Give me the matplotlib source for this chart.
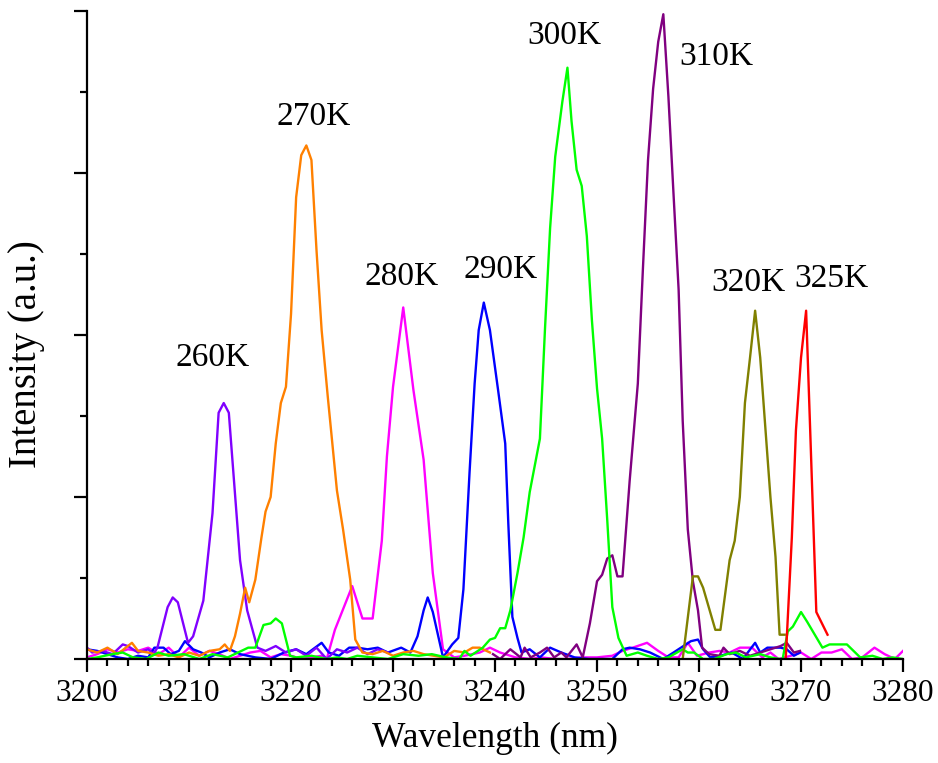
#!/usr/bin/env python3

import numpy as np
import matplotlib.pyplot as plt
from matplotlib.ticker import MultipleLocator, NullFormatter

plt.rcParams['font.family'] = ['Liberation Serif', 'DejaVu Serif']

# Emission spectra at several temperatures (intensity in arbitrary units)
wl_260 = [3200, 3200.5, 3201.5, 3202.5, 3203.5, 3204, 3205, 3206, 3206.5, 3206.9,
          3207.9, 3208.4, 3208.9, 3209.9, 3210.4, 3211.4, 3212.3, 3212.9, 3213.4, 3213.9,
          3215.0, 3215.7, 3216.7, 3217.5, 3218.5, 3219.5, 3220.5, 3221.5, 3222.5, 3223.5,
          3224.5, 3225.5, 3226.5, 3227.5, 3228.5, 3229.5]
int_260 = [0.07, 0.04, 0.05, 0.03, 0.09, 0.08, 0.04, 0.06, 0.03, 0.07,
           0.32, 0.38, 0.35, 0.10, 0.14, 0.36, 0.90, 1.52, 1.58, 1.52,
           0.61, 0.30, 0.07, 0.05, 0.08, 0.04, 0.06, 0.02, 0.07, 0.00,
           0.06, 0.04, 0.07, 0.03, 0.06, 0.04]

wl_270 = [3200, 3201, 3202, 3203, 3204, 3204.4, 3205, 3206, 3207, 3208,
          3209, 3210, 3211, 3212, 3213, 3213.5, 3214, 3214.5, 3215.0, 3215.5,
          3215.9, 3216.5, 3217.1, 3217.5, 3218.0, 3218.5, 3219.0, 3219.5, 3220.0, 3220.5,
          3221.0, 3221.5, 3222.0, 3222.5, 3223.0, 3223.6, 3224.5, 3225.1, 3225.8, 3226.3,
          3227, 3228, 3229, 3230, 3231, 3232, 3233, 3234, 3235, 3236,
          3237, 3237.8, 3238.5, 3239.5]
int_270 = [0.06, 0.04, 0.07, 0.03, 0.08, 0.10, 0.05, 0.04, 0.02, 0.03,
           0.01, 0.04, 0.02, 0.05, 0.06, 0.09, 0.05, 0.14, 0.28, 0.44,
           0.35, 0.49, 0.75, 0.91, 1.00, 1.33, 1.58, 1.68, 2.13, 2.85,
           3.11, 3.17, 3.08, 2.52, 2.03, 1.62, 1.04, 0.80, 0.49, 0.12,
           0.04, 0.03, 0.05, 0.02, 0.04, 0.05, 0.03, 0.02, 0.01, 0.05,
           0.04, 0.07, 0.07, 0.04]

wl_280 = [3200, 3201, 3202, 3203, 3204, 3205, 3206, 3207, 3208, 3209,
          3210, 3211, 3212, 3213, 3214, 3215, 3216, 3217, 3218, 3219,
          3220, 3221, 3222, 3223, 3223.5, 3224.3, 3226.0, 3227.0, 3228.0, 3228.9,
          3229.4, 3230.0, 3231.0, 3232.0, 3233.0, 3233.9, 3234.9, 3236, 3237, 3238.5,
          3239.5, 3240.5, 3242, 3243.5, 3244.5, 3246, 3247, 3248.5, 3250, 3251.5,
          3252.5, 3253.5, 3254.9, 3256, 3257, 3258, 3258.9, 3259.8, 3261, 3262,
          3263, 3264, 3265.2, 3266.2, 3267, 3267.8, 3269, 3270, 3271, 3272,
          3273, 3274, 3275, 3276, 3277.2, 3278.2, 3279.2, 3280]
int_280 = [0.01, 0.03, 0.06, 0.04, 0.06, 0.05, 0.07, 0.03, 0.07, 0.01,
           0.07, 0.02, 0.05, 0.03, 0.00, 0.02, 0.04, 0.05, 0.01, 0.03,
           0.02, 0.00, 0.01, 0.02, 0.00, 0.18, 0.45, 0.25, 0.25, 0.73,
           1.25, 1.68, 2.17, 1.66, 1.23, 0.53, 0.06, 0.01, 0.02, 0.04,
           0.07, 0.04, 0.01, 0.00, 0.01, 0.00, 0.00, 0.01, 0.01, 0.02,
           0.05, 0.07, 0.10, 0.05, 0.01, 0.01, 0.10, 0.02, 0.04, 0.05,
           0.04, 0.07, 0.07, 0.01, 0.04, 0.00, 0.02, 0.04, 0.00, 0.04,
           0.04, 0.06, 0.00, 0.01, 0.07, 0.03, 0.00, 0.05]

wl_290 = [3200, 3201, 3202, 3203, 3204, 3205, 3206, 3206.6, 3207.5, 3208.2,
          3209, 3209.6, 3210.4, 3211.2, 3212, 3213, 3214, 3215, 3216.5, 3218,
          3219.3, 3220.5, 3221.5, 3223.0, 3223.7, 3224.7, 3225.7, 3226.5, 3227.5, 3228.5,
          3229.5, 3230.8, 3231.7, 3232.4, 3233.0, 3233.4, 3233.9, 3234.9, 3235.8, 3236.4,
          3236.9, 3237.5, 3238.0, 3238.4, 3238.9, 3239.5, 3240.3, 3241.0, 3241.3, 3241.7,
          3242.2, 3242.6, 3243.4, 3244.4, 3245.4, 3246.5, 3247.8, 3249.2, 3250.8, 3251.5,
          3252.5, 3253.2, 3254.2, 3255.2, 3256.5, 3257.5, 3259.2, 3259.9, 3260.4, 3261.1,
          3262.1, 3263.2, 3264.3, 3265.5, 3266.0, 3266.7, 3268.0, 3268.6, 3269.3, 3269.9]
int_290 = [0.06, 0.05, 0.03, 0.01, 0.00, 0.02, 0.01, 0.07, 0.07, 0.03,
           0.05, 0.11, 0.06, 0.04, 0.01, 0.04, 0.06, 0.03, 0.01, 0.00,
           0.04, 0.06, 0.03, 0.10, 0.04, 0.02, 0.07, 0.07, 0.06, 0.07,
           0.04, 0.07, 0.04, 0.14, 0.30, 0.38, 0.29, 0.01, 0.09, 0.13,
           0.43, 1.15, 1.70, 2.03, 2.20, 2.03, 1.66, 1.33, 0.84, 0.26,
           0.13, 0.04, 0.06, 0.01, 0.07, 0.04, 0.01, 0.00, 0.00, 0.00,
           0.06, 0.07, 0.06, 0.04, 0.00, 0.04, 0.11, 0.12, 0.06, 0.01,
           0.02, 0.04, 0.00, 0.10, 0.04, 0.07, 0.07, 0.06, 0.02, 0.04]

wl_300 = [3200, 3201, 3202.5, 3203.5, 3204.5, 3205.8, 3207, 3208, 3209.5, 3211,
          3212.3, 3213.8, 3214.8, 3215.8, 3216.5, 3217.3, 3218.0, 3218.5, 3219.1, 3219.9,
          3220.5, 3222, 3223.5, 3224.5, 3225.5, 3226.5, 3228, 3229.5, 3231, 3232.5,
          3233.8, 3235.2, 3236.5, 3237.0, 3237.6, 3238.8, 3239.5, 3240.0, 3240.5, 3241.0,
          3241.5, 3242.2, 3242.8, 3243.4, 3244.4, 3244.9, 3245.4, 3245.9, 3246.6, 3247.1,
          3247.5, 3248.0, 3248.5, 3249.0, 3249.5, 3250.0, 3250.5, 3251.0, 3251.5, 3252.1,
          3252.9, 3254.0, 3254.9, 3256.0, 3257.0, 3258.4, 3258.9, 3259.5, 3260.4, 3261.5,
          3262.7, 3263.6, 3264.6, 3266.0, 3267.0, 3267.9, 3268.2, 3268.7, 3269.2, 3270.0,
          3270.6, 3272.1, 3272.8, 3274.5, 3275.8, 3277, 3278, 3279, 3280]
int_300 = [0.00, 0.01, 0.03, 0.04, 0.01, 0.00, 0.04, 0.02, 0.03, 0.00,
           0.03, 0.01, 0.04, 0.07, 0.07, 0.21, 0.22, 0.25, 0.22, 0.02,
           0.01, 0.02, 0.00, 0.01, 0.00, 0.02, 0.01, 0.00, 0.03, 0.02,
           0.03, 0.01, 0.00, 0.05, 0.02, 0.07, 0.12, 0.13, 0.19, 0.19,
           0.30, 0.53, 0.75, 1.03, 1.36, 2.04, 2.66, 3.10, 3.44, 3.65,
           3.32, 3.02, 2.92, 2.61, 2.09, 1.67, 1.36, 0.86, 0.32, 0.13,
           0.02, 0.04, 0.02, 0.00, 0.01, 0.06, 0.04, 0.04, 0.00, 0.00,
           0.03, 0.04, 0.01, 0.03, 0.01, 0.00, 0.00, 0.17, 0.20, 0.29,
           0.23, 0.07, 0.09, 0.09, 0.01, 0.02, 0.00, 0.01, 0.00]

wl_310 = [3239.8, 3240.5, 3241.5, 3242.5, 3242.9, 3243.5, 3244.4, 3245.1, 3245.8, 3246.5,
          3247.0, 3248.0, 3248.6, 3249.3, 3250.0, 3250.5, 3251.0, 3251.5, 3252.0, 3252.5,
          3253.2, 3254.0, 3254.5, 3255.0, 3255.5, 3256.0, 3256.5, 3257.0, 3257.5, 3258.0,
          3258.4, 3258.9, 3259.4, 3259.9, 3260.3, 3261.0, 3262.0, 3262.4, 3263.0, 3264.0,
          3265.0, 3266.0, 3267.0, 3268.0, 3268.6, 3269.3, 3269.9]
int_310 = [0.03, 0.00, 0.06, 0.01, 0.07, 0.01, 0.04, 0.07, 0.01, 0.04,
           0.01, 0.09, 0.01, 0.22, 0.48, 0.52, 0.62, 0.64, 0.51, 0.51,
           1.10, 1.70, 2.41, 3.08, 3.52, 3.81, 3.98, 3.47, 2.87, 2.28,
           1.47, 0.80, 0.48, 0.30, 0.07, 0.03, 0.02, 0.07, 0.03, 0.05,
           0.02, 0.04, 0.06, 0.08, 0.10, 0.04, 0.05]

wl_320 = [3258.4, 3259.4, 3259.9, 3260.4, 3261.6, 3262.1, 3263.0, 3263.5, 3264.0, 3264.5,
          3265.0, 3265.5, 3266.0, 3266.5, 3267.0, 3267.5, 3267.9, 3268.4]
int_320 = [0.00, 0.51, 0.51, 0.44, 0.18, 0.18, 0.61, 0.73, 1.00, 1.58,
           1.86, 2.15, 1.86, 1.43, 1.00, 0.63, 0.15, 0.15]

wl_325 = [3268.5, 3269.1, 3269.5, 3270.0, 3270.5, 3270.9, 3271.5, 3272.6]
int_325 = [0.00, 0.75, 1.41, 1.86, 2.15, 1.41, 0.29, 0.15]

labels = ['260K', '270K', '280K', '290K', '300K', '310K', '320K', '325K']
colors = ['#8000ff', '#ff8000', '#ff00ff', '#0000ff', '#00ff00', '#800080', '#808000', '#ff0000']
label_x = [3212.3, 3222.2, 3230.8, 3240.5, 3246.8, 3261.7, 3264.8, 3273.0]
label_y = [1.86, 3.35, 2.36, 2.40, 3.85, 3.72, 2.32, 2.35]

spectra = [(wl_260, int_260), (wl_270, int_270), (wl_280, int_280), (wl_290, int_290),
           (wl_300, int_300), (wl_310, int_310), (wl_320, int_320), (wl_325, int_325)]

fig = plt.figure(figsize=(9.38, 7.63), dpi=100)
ax = fig.add_axes([0.0928, 0.1363, 0.8699, 0.8493])

# draw in an order that keeps the tall peaks on top of baseline noise
for i in [2, 3, 0, 1, 5, 4, 6, 7]:
    wl, inten = spectra[i]
    ax.plot(wl, inten, color=colors[i], lw=1.7)

for txt, x, y in zip(labels, label_x, label_y):
    ax.text(x, y, txt, fontsize=24, ha='center', va='center')

ax.set_xlim(3200, 3280)
ax.set_ylim(0, 4)
ax.xaxis.set_major_locator(MultipleLocator(10))
ax.xaxis.set_minor_locator(MultipleLocator(2))
ax.yaxis.set_major_locator(MultipleLocator(1))
ax.yaxis.set_minor_locator(MultipleLocator(0.5))
ax.yaxis.set_major_formatter(NullFormatter())

for s in ['top', 'right']:
    ax.spines[s].set_visible(False)
for s in ['left', 'bottom']:
    ax.spines[s].set_linewidth(1.6)
ax.tick_params(which='major', length=9.5, width=1.6, labelsize=22.5, pad=5)
ax.tick_params(which='minor', length=5, width=1.6)

ax.set_xlabel('Wavelength (nm)', fontsize=25.5, labelpad=10)
ax.set_ylabel('Intensity (a.u.)', fontsize=28)
ax.yaxis.set_label_coords(-0.052, 0.47)

fig.savefig('out.png', dpi=100)
